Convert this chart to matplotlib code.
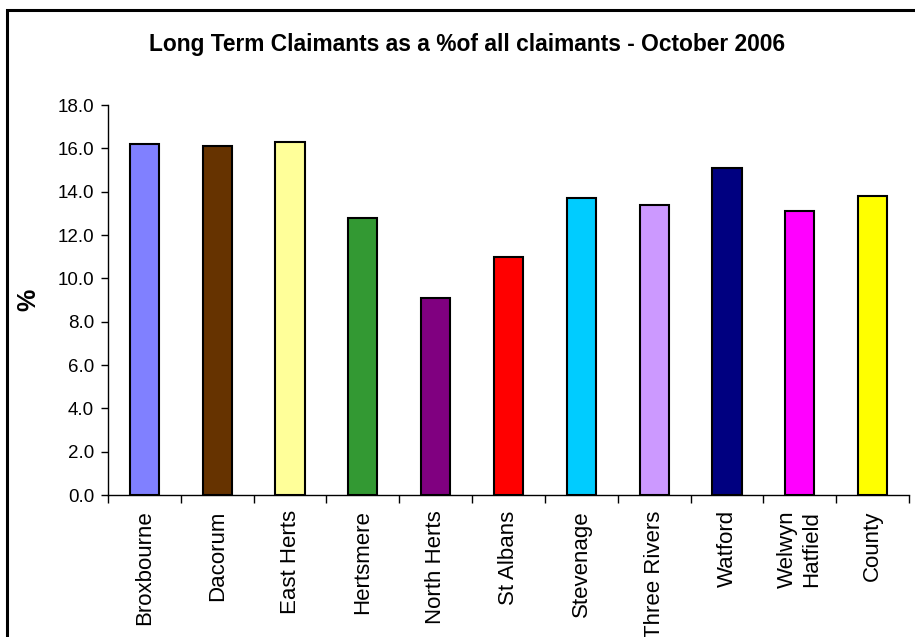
import matplotlib
matplotlib.use("Agg")
import matplotlib.pyplot as plt
from matplotlib.patches import Rectangle

categories = ["Broxbourne", "Dacorum", "East Herts", "Hertsmere", "North Herts",
              "St Albans", "Stevenage", "Three Rivers", "Watford",
              "Welwyn\nHatfield", "County"]
values = [16.2, 16.1, 16.3, 12.8, 9.1, 11.0, 13.7, 13.4, 15.1, 13.1, 13.8]
colors = ["#8080FF", "#663300", "#FFFF99", "#339933", "#800080", "#FF0000",
          "#00CCFF", "#CC99FF", "#000080", "#FF00FF", "#FFFF00"]
yticks = [0, 2, 4, 6, 8, 10, 12, 14, 16, 18]

plt.rcParams['font.family'] = ['Liberation Sans', 'DejaVu Sans']

fig = plt.figure(figsize=(9.15, 6.37), dpi=100)
W, H = 915, 637
ax = fig.add_axes([108 / W, 1 - 495 / H, (909 - 108) / W, (495 - 105) / H])

x = list(range(len(categories)))
ax.bar(x, values, width=0.4, color=colors, edgecolor="black", linewidth=1.5, zorder=3)

ax.set_xlim(-0.5, len(categories) - 0.5)
ax.set_ylim(0, 18)
ax.set_yticks(yticks)
ax.set_yticklabels([f"{v:.1f}" for v in yticks], fontsize=13.5)
ax.tick_params(axis='y', direction='out', length=5, width=1, pad=5)

ax.set_xticks([i + 0.5 for i in range(-1, len(categories))])
ax.set_xticklabels([])
ax.tick_params(axis='x', direction='out', length=6, width=1)
ax.set_xticks(x, minor=True)
ax.set_xticklabels(categories, minor=True, rotation=90, fontsize=16,
                   va='top', ha='center', linespacing=1.2)
ax.tick_params(axis='x', which='minor', length=0, pad=11)

for s in ["top", "right"]:
    ax.spines[s].set_visible(False)
ax.spines["left"].set_linewidth(1)
ax.spines["bottom"].set_linewidth(1)

ax.set_ylabel("%", fontsize=18, fontweight='bold', labelpad=12)

fig.text(467 / W, 1 - 45 / H, "Long Term Claimants as a %of all claimants - October 2006",
         ha='center', va='center', fontsize=16.4, fontweight='bold')

fig.patches.append(Rectangle((7 / W, -0.05), 1.1, 1 - 10 / H + 0.05,
                             transform=fig.transFigure, fill=False,
                             edgecolor='black', linewidth=2.2))

fig.savefig("out.png", dpi=100)
